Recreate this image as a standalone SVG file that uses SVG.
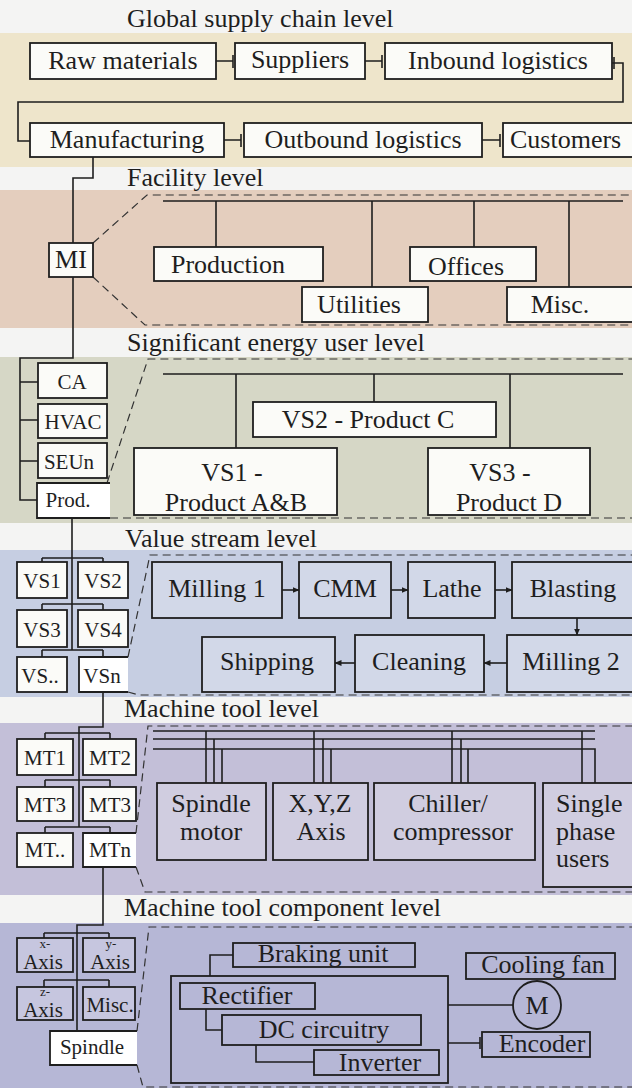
<svg xmlns="http://www.w3.org/2000/svg" width="632" height="1088" viewBox="0 0 632 1088" font-family="Liberation Serif">
<style>
.bg{fill:#f4f4f3}
.box{fill:#fbfbf8;stroke:#1e1e1e;stroke-width:1.8}
.tbox{fill:#ffffff;fill-opacity:0.22;stroke:#1e1e1e;stroke-width:1.8}
.hl{fill:#ffffff;stroke:none}
.edge{fill:none;stroke:#1e1e1e;stroke-width:1.8}
.ln{fill:none;stroke:#1e1e1e;stroke-width:1.6}
.dash{fill:none;stroke:#333;stroke-width:1.2;stroke-dasharray:8 5}
.t{font-size:26px;fill:#1e1e1e}
.c{text-anchor:middle}
.s{font-size:21px}
.xs{font-size:13px}
</style>
<defs>
<marker id="ah" markerWidth="7" markerHeight="6" refX="6.5" refY="3" orient="auto" markerUnits="userSpaceOnUse">
<path d="M0,0 L7,3 L0,6 z" fill="#1e1e1e"/>
</marker>
</defs>
<rect class="bg" x="0" y="0" width="632" height="1088"/>
<!-- bands -->
<rect x="0" y="33" width="632" height="134" fill="#eee5cb"/>
<rect x="0" y="190" width="632" height="138" fill="#e4cebe"/>
<rect x="0" y="357" width="632" height="166" fill="#d6d7c6"/>
<rect x="0" y="550" width="632" height="147" fill="#c6cee2"/>
<rect x="0" y="723" width="632" height="172" fill="#c3bfd8"/>
<rect x="0" y="923" width="632" height="165" fill="#b6b7d6"/>
<!-- titles -->
<g id="titles" class="t" font-family="Liberation Serif">
<text x="127" y="27">Global supply chain level</text>
<text x="127" y="186">Facility level</text>
<text x="127" y="351">Significant energy user level</text>
<text x="125" y="547">Value stream level</text>
<text x="124" y="717">Machine tool level</text>
<text x="124" y="916">Machine tool component level</text>
</g>
<!-- zoom outlines -->
<g id="zoom-outlines">
<path class="dash" d="M93 243 L147 195 H632 M93 277 L145 325 H632"/>
<path class="dash" d="M107 483 L148 359 H632 M110 518 H632"/>
<path class="dash" d="M128 657 L150 555 H632 M128 692 L139 695 H632"/>
<path class="dash" d="M136 833 L148 726 H632 M136 867 L145 892 H632"/>
<path class="dash" d="M137 1031 L149 927 H632 M137 1065 L143 1087 H632"/>
</g>
<!-- connectors -->
<g id="connectors">
<path class="ln" d="M216 61 H233 M233 55 V68"/>
<path class="ln" d="M365 61 H382 M382 55 V68"/>
<path class="ln" d="M612 63 H623 V102 H18 V141 H30 M614 57 V69"/>
<path class="ln" d="M224 140 H241 M241 134 V147"/>
<path class="ln" d="M482 140 H500 M500 134 V147"/>
<path class="ln" d="M93 157 V178 H73 V243"/>
<path class="ln" d="M163 201 H623 M216 201 V247 M372 201 V287 M474 201 V247 M569 201 V287"/>
<path class="ln" d="M73 277 V358 H20 V500 H37 M20 382 H38 M20 420 H38 M20 461 H38"/>
<path class="ln" d="M163 374 H623 M236 374 V448 M374 374 V402 M510 374 V448"/>
<path class="ln" d="M72 518 V650 M42 558 H103 M42 558 V562 M103 558 V562 M42 604 H103 M42 604 V610 M103 604 V610 M42 650 H103 M42 650 V657 M103 650 V657"/>
<path class="ln" marker-end="url(#ah)" d="M282 590 H299"/>
<path class="ln" marker-end="url(#ah)" d="M391 590 H408"/>
<path class="ln" marker-end="url(#ah)" d="M495 590 H512"/>
<path class="ln" marker-end="url(#ah)" d="M577 618 V635"/>
<path class="ln" marker-end="url(#ah)" d="M507 663 H484"/>
<path class="ln" marker-end="url(#ah)" d="M355 663 H335"/>
<path class="ln" d="M103 692 V727 H79 V827 M45 733 H110 M45 733 V739 M110 733 V739 M45 780 H110 M45 780 V787 M110 780 V787 M45 827 H110 M45 827 V833 M110 827 V833"/>
<path class="ln" d="M153 731 H595 M153 739 H595 M153 749 H595 V783 M206 731 V783 M214 739 V783 M222 749 V783 M314 731 V783 M323 739 V783 M331 749 V783 M452 731 V783 M461 739 V783 M468 749 V783 M582 731 V783"/>
<path class="ln" d="M103 867 V925 H77 V1031 M44 933 H109 M44 933 V938 M109 933 V938 M44 980 H109 M44 980 V987 M109 980 V987"/>
<path class="ln" d="M233 955 H210 V976"/>
<path class="ln" d="M206 1009 V1030 H222"/>
<path class="ln" d="M256 1045 V1062 H314"/>
<path class="ln" d="M448 1005 H513"/>
<path class="ln" d="M448 1043 H480 M480 1037 V1049"/>
</g>
<g id="nodes" font-family="Liberation Serif">
<!-- Level 1 -->
<g id="raw-materials"><rect class="box" x="30" y="43" width="186" height="36"/><text class="t c" x="123" y="69">Raw materials</text></g>
<g id="suppliers"><rect class="box" x="235" y="43" width="130" height="36"/><text class="t c" x="300" y="68">Suppliers</text></g>
<g id="inbound-logistics"><rect class="box" x="385" y="43" width="227" height="36"/><text class="t c" x="498" y="69">Inbound logistics</text></g>
<g id="manufacturing"><rect class="box" x="30" y="123" width="194" height="34"/><text class="t c" x="127" y="148">Manufacturing</text></g>
<g id="outbound-logistics"><rect class="box" x="244" y="123" width="238" height="34"/><text class="t c" x="363" y="148">Outbound logistics</text></g>
<g id="customers"><rect class="box" x="503" y="123" width="140" height="34"/><text class="t" x="510" y="148">Customers</text></g>
<!-- Level 2 -->
<g id="mi"><rect class="box" x="49" y="243" width="44" height="34"/><text class="t c" x="71" y="268">MI</text></g>
<g id="production"><rect class="box" x="154" y="247" width="169" height="34"/><text class="t c" x="228" y="273">Production</text></g>
<g id="utilities"><rect class="box" x="302" y="287" width="126" height="35"/><text class="t c" x="359" y="313">Utilities</text></g>
<g id="offices"><rect class="box" x="410" y="247" width="126" height="34"/><text class="t c" x="466" y="275">Offices</text></g>
<g id="misc-facility"><rect class="box" x="507" y="287" width="130" height="35"/><text class="t c" x="560" y="313">Misc.</text></g>
<!-- Level 3 -->
<g id="ca"><rect class="box" x="38" y="363" width="69" height="35"/><text class="t s c" x="72" y="389">CA</text></g>
<g id="hvac"><rect class="box" x="38" y="404" width="69" height="34"/><text class="t s c" x="73" y="429">HVAC</text></g>
<g id="seun"><rect class="box" x="38" y="443" width="69" height="35"/><text class="t s c" x="69" y="469">SEUn</text></g>
<g id="prod"><rect class="hl" x="37" y="483" width="73" height="35"/><path class="edge" d="M110 483 H37 V518 H110"/><text class="t s c" x="68" y="507">Prod.</text></g>
<g id="vs2-product-c"><rect class="box" x="253" y="402" width="243" height="35"/><text class="t c" x="368" y="428">VS2 - Product C</text></g>
<g id="vs1-product-ab"><rect class="box" x="134" y="448" width="203" height="67"/><text class="t c" x="232" y="481">VS1 -</text><text class="t c" x="236" y="511">Product A&amp;B</text></g>
<g id="vs3-product-d"><rect class="box" x="428" y="448" width="162" height="67"/><text class="t c" x="500" y="481">VS3 -</text><text class="t c" x="509" y="511">Product D</text></g>
<!-- Level 4 -->
<g id="vs1"><rect class="box" x="17" y="562" width="50" height="36"/><text class="t s c" x="42" y="588">VS1</text></g>
<g id="vs2"><rect class="box" x="78" y="562" width="50" height="36"/><text class="t s c" x="103" y="588">VS2</text></g>
<g id="vs3"><rect class="box" x="17" y="610" width="50" height="37"/><text class="t s c" x="42" y="637">VS3</text></g>
<g id="vs4"><rect class="box" x="78" y="610" width="50" height="37"/><text class="t s c" x="103" y="637">VS4</text></g>
<g id="vs-dots"><rect class="box" x="17" y="657" width="50" height="35"/><text class="t s c" x="40" y="683">VS..</text></g>
<g id="vsn"><rect class="hl" x="79" y="657" width="49" height="35"/><path class="edge" d="M128 657 H79 V692 H128"/><text class="t s c" x="102" y="683">VSn</text></g>
<g id="milling-1"><rect class="tbox" x="152" y="562" width="130" height="56"/><text class="t c" x="217" y="597">Milling 1</text></g>
<g id="cmm"><rect class="tbox" x="299" y="562" width="92" height="56"/><text class="t c" x="345" y="597">CMM</text></g>
<g id="lathe"><rect class="tbox" x="408" y="562" width="87" height="56"/><text class="t c" x="452" y="597">Lathe</text></g>
<g id="blasting"><rect class="tbox" x="512" y="562" width="130" height="56"/><text class="t c" x="573" y="597">Blasting</text></g>
<g id="milling-2"><rect class="tbox" x="507" y="635" width="130" height="57"/><text class="t c" x="571" y="670">Milling 2</text></g>
<g id="cleaning"><rect class="tbox" x="355" y="635" width="129" height="57"/><text class="t c" x="419" y="670">Cleaning</text></g>
<g id="shipping"><rect class="tbox" x="202" y="637" width="133" height="55"/><text class="t c" x="267" y="670">Shipping</text></g>
<!-- Level 5 -->
<g id="mt1"><rect class="box" x="17" y="739" width="56" height="36"/><text class="t s c" x="45" y="765">MT1</text></g>
<g id="mt2"><rect class="box" x="83" y="739" width="53" height="36"/><text class="t s c" x="110" y="765">MT2</text></g>
<g id="mt3a"><rect class="box" x="17" y="787" width="56" height="34"/><text class="t s c" x="45" y="812">MT3</text></g>
<g id="mt3b"><rect class="box" x="83" y="787" width="53" height="34"/><text class="t s c" x="110" y="812">MT3</text></g>
<g id="mt-dots"><rect class="box" x="17" y="833" width="56" height="34"/><text class="t s c" x="45" y="857">MT..</text></g>
<g id="mtn"><rect class="hl" x="83" y="833" width="53" height="34"/><path class="edge" d="M136 833 H83 V867 H136"/><text class="t s c" x="110" y="857">MTn</text></g>
<g id="spindle-motor"><rect class="tbox" x="157" y="783" width="109" height="77"/><text class="t c" x="211" y="812">Spindle</text><text class="t c" x="211" y="840">motor</text></g>
<g id="xyz-axis"><rect class="tbox" x="273" y="783" width="95" height="77"/><text class="t c" x="320" y="812">X,Y,Z</text><text class="t c" x="321" y="840">Axis</text></g>
<g id="chiller-compressor"><rect class="tbox" x="374" y="783" width="161" height="77"/><text class="t c" x="448" y="812">Chiller/</text><text class="t c" x="453" y="840">compressor</text></g>
<g id="single-phase-users"><rect class="tbox" x="543" y="783" width="100" height="104"/><text class="t" x="556" y="812">Single</text><text class="t" x="556" y="840">phase</text><text class="t" x="556" y="867">users</text></g>
<!-- Level 6 -->
<g id="x-axis"><rect class="tbox" x="17" y="938" width="56" height="34"/><text class="t xs c" x="45" y="948">x-</text><text class="t s c" x="43" y="969">Axis</text></g>
<g id="y-axis"><rect class="tbox" x="83" y="938" width="52" height="34"/><text class="t xs c" x="111" y="948">y-</text><text class="t s c" x="110" y="969">Axis</text></g>
<g id="z-axis"><rect class="tbox" x="17" y="987" width="56" height="33"/><text class="t xs c" x="45" y="996">z-</text><text class="t s c" x="43" y="1017">Axis</text></g>
<g id="misc-mt"><rect class="tbox" x="83" y="987" width="52" height="33"/><text class="t s c" x="110" y="1012">Misc.</text></g>
<g id="spindle"><rect class="hl" x="50" y="1031" width="87" height="34"/><path class="edge" d="M137 1031 H50 V1065 H137"/><text class="t s c" x="92" y="1054">Spindle</text></g>
<g id="drive-housing"><rect class="edge" x="171" y="976" width="277" height="107"/></g>
<g id="braking-unit"><rect class="edge" x="233" y="943" width="182" height="24"/><text class="t c" x="323" y="962">Braking unit</text></g>
<g id="rectifier"><rect class="edge" x="180" y="983" width="135" height="26"/><text class="t c" x="247" y="1004">Rectifier</text></g>
<g id="dc-circuitry"><rect class="edge" x="222" y="1015" width="199" height="30"/><text class="t c" x="324" y="1038">DC circuitry</text></g>
<g id="inverter"><rect class="edge" x="314" y="1050" width="125" height="25"/><text class="t c" x="380" y="1071">Inverter</text></g>
<g id="cooling-fan"><rect class="edge" x="466" y="953" width="149" height="26"/><text class="t c" x="543" y="973">Cooling fan</text></g>
<g id="motor"><circle class="edge" cx="537" cy="1005" r="24"/><text class="t c" x="537" y="1014">M</text></g>
<g id="encoder"><rect class="edge" x="482" y="1032" width="108" height="25"/><text class="t c" x="542" y="1052">Encoder</text></g>
</g>
</svg>
